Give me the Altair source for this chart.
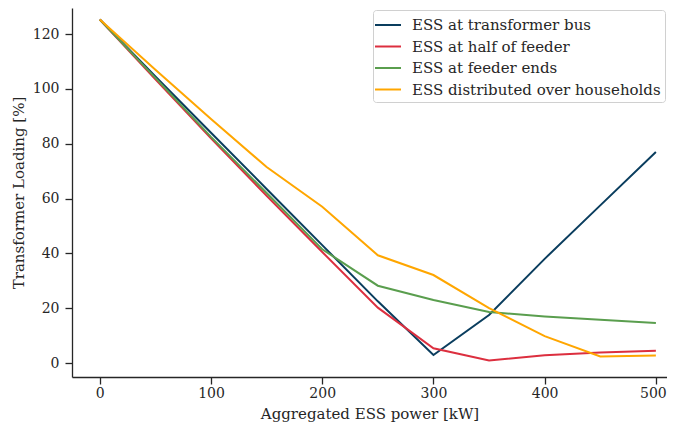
import altair as alt
import pandas as pd

power_kw = [0, 50, 100, 150, 200, 250, 300, 350, 400, 450, 500]
series_names = [
    "ESS at transformer bus",
    "ESS at half of feeder",
    "ESS at feeder ends",
    "ESS distributed over households",
]
transformer_bus = [125.3, 104.5, 84.0, 63.5, 43.0, 22.5, 2.9, 17.5, 38.0, 57.5, 77.0]
half_of_feeder = [125.3, 103.5, 82.0, 61.0, 40.5, 20.2, 5.4, 0.9, 2.8, 3.8, 4.5]
feeder_ends = [125.3, 104.0, 82.5, 62.0, 41.5, 28.2, 23.0, 18.6, 17.0, 15.8, 14.6]
distributed = [125.3, 107.0, 89.0, 71.5, 57.0, 39.3, 32.1, 20.0, 9.8, 2.4, 2.7]
colors = ["#0a3d5e", "#dc2f3f", "#5a9e4e", "#ffa600"]

values = [transformer_bus, half_of_feeder, feeder_ends, distributed]
rows = []
for name, vals in zip(series_names, values):
    for p, v in zip(power_kw, vals):
        rows.append({"power": p, "loading": v, "series": name})
df = pd.DataFrame(rows)

font = "DejaVu Serif"

chart = (
    alt.Chart(df)
    .mark_line(strokeWidth=2, clip=True)
    .encode(
        x=alt.X(
            "power:Q",
            title="Aggregated ESS power [kW]",
            scale=alt.Scale(domain=[-25, 510], nice=False, zero=False),
            axis=alt.Axis(
                values=[0, 100, 200, 300, 400, 500],
                grid=False,
                labelPadding=2,
                titlePadding=6,
                labelOffset={"condition": {"test": "datum.value >= 500", "value": -3}, "value": 0},
            ),
        ),
        y=alt.Y(
            "loading:Q",
            title="Transformer Loading [%]",
            scale=alt.Scale(domain=[-5.1, 129.5], nice=False, zero=False),
            axis=alt.Axis(
                values=[0, 20, 40, 60, 80, 100, 120],
                grid=False,
                labelPadding=6,
                titlePadding=6,
            ),
        ),
        color=alt.Color(
            "series:N",
            sort=series_names,
            scale=alt.Scale(domain=series_names, range=colors),
            legend=alt.Legend(
                title=None,
                orient="none",
                legendX=301,
                legendY=2,
                symbolType="M-1.3,0H1.3",
                symbolSize=400,
                symbolStrokeWidth=2,
                labelFont=font,
                labelFontSize=15,
                labelColor="#262626",
                labelLimit=0,
                rowPadding=2.5,
                padding=4,
                strokeColor="#d0d0d0",
                fillColor="white",
                cornerRadius=3,
                labelOffset=13,
            ),
        ),
    )
    .properties(
        width=595,
        height=369,
        autosize=alt.AutoSizeParams(type="none"),
        padding={"left": 64, "top": 0, "right": 0, "bottom": 45},
    )
    .configure_view(stroke=None)
    .configure_axis(
        labelFont=font,
        titleFont=font,
        labelFontSize=14,
        titleFontSize=15,
        titleFontWeight="normal",
        labelColor="#262626",
        titleColor="#262626",
        domainColor="#262626",
        domainWidth=1.3,
        tickColor="#262626",
        tickWidth=1.3,
        tickSize=7,
    )
)

chart.save("out.html", embed_options={"renderer": "svg", "actions": False})
